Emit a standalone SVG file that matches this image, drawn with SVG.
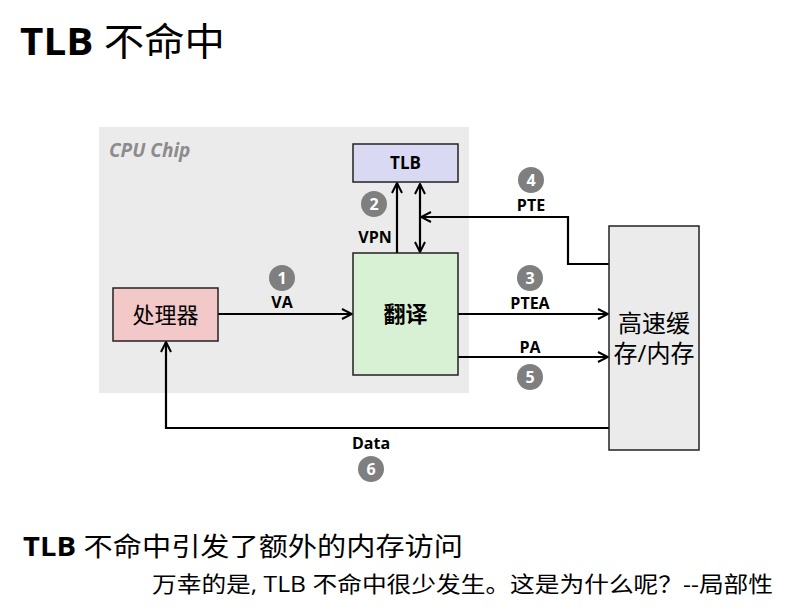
<svg xmlns="http://www.w3.org/2000/svg" width="794" height="612" viewBox="0 0 794 612">
<defs>
<style>
.t{font-family:"Open Sans","Noto Sans CJK SC",sans-serif;fill:#000}
.b{font-weight:bold}
.lbl{font-family:"Open Sans","Noto Sans CJK SC",sans-serif;font-weight:bold;font-size:16px;text-anchor:middle}
.num{font-family:"Open Sans",sans-serif;font-weight:bold;font-size:16px;fill:#fff;text-anchor:middle}
.c{fill:#7f7f7f}
.box{stroke:#222;stroke-width:1.5}
.ln{fill:none;stroke:#000;stroke-width:2.2}
</style>
<marker id="ah" viewBox="0 0 12 12" refX="11" refY="6" markerWidth="12" markerHeight="12" markerUnits="userSpaceOnUse" orient="auto-start-reverse">
<path d="M1,1 L11,6 L1,11" fill="none" stroke="#000" stroke-width="2"/>
</marker>
</defs>
<rect width="794" height="612" fill="#fff"/>
<text class="t" x="20" y="55" font-size="38" textLength="205" lengthAdjust="spacingAndGlyphs"><tspan class="b">TLB</tspan> 不命中</text>

<g id="chip">
<rect x="99" y="127" width="370" height="266" fill="#ebebeb"/>
<text x="109" y="157" font-family="Open Sans,sans-serif" font-style="italic" font-weight="bold" font-size="19" fill="#8c8c8c">CPU Chip</text>
</g>

<g id="conn">
<line class="ln" x1="218" y1="314" x2="352" y2="314" marker-end="url(#ah)"/>
<line class="ln" x1="397" y1="253" x2="397" y2="183" marker-end="url(#ah)"/>
<line class="ln" x1="420" y1="252" x2="420" y2="184" marker-start="url(#ah)" marker-end="url(#ah)"/>
<polyline class="ln" points="609,264 568,264 568,217 421,217" marker-end="url(#ah)"/>
<line class="ln" x1="458" y1="314" x2="608" y2="314" marker-end="url(#ah)"/>
<line class="ln" x1="458" y1="357" x2="608" y2="357" marker-end="url(#ah)"/>
<polyline class="ln" points="609,428 166,428 166,342" marker-end="url(#ah)"/>
<text class="lbl" x="282" y="308">VA</text>
<text class="lbl" x="375" y="243">VPN</text>
<text class="lbl" x="531" y="211">PTE</text>
<text class="lbl" x="530" y="309">PTEA</text>
<text class="lbl" x="530" y="353">PA</text>
<text class="lbl" x="371" y="449">Data</text>
</g>

<g id="badges">
<circle class="c" cx="282" cy="278" r="13"/><text class="num" x="282" y="284">1</text>
<circle class="c" cx="374" cy="204" r="13"/><text class="num" x="374" y="210">2</text>
<circle class="c" cx="530" cy="278" r="13"/><text class="num" x="530" y="284">3</text>
<circle class="c" cx="531" cy="180" r="13"/><text class="num" x="531" y="186">4</text>
<circle class="c" cx="530" cy="377" r="13"/><text class="num" x="530" y="383">5</text>
<circle class="c" cx="371" cy="469" r="13"/><text class="num" x="371" y="475">6</text>
</g>

<g id="tlb">
<rect class="box" x="353" y="144" width="105" height="38" fill="#d9d9f3"/>
<text class="lbl" x="405.5" y="169" style="font-size:17px">TLB</text>
</g>

<g id="translate">
<rect class="box" x="353" y="253" width="105" height="122" fill="#d8f0d4"/>
<text class="lbl" x="405.5" y="322" style="font-size:22px">翻译</text>
</g>

<g id="processor">
<rect class="box" x="113" y="288" width="105" height="53" fill="#f2c8c8"/>
<text class="t" x="165.5" y="323" font-size="22" text-anchor="middle">处理器</text>
</g>

<g id="memory">
<rect class="box" x="609" y="226" width="90" height="224" fill="#ebebeb"/>
<text class="t" x="654" y="332" font-size="24" text-anchor="middle">高速缓</text>
<text class="t" x="654" y="362" font-size="24" text-anchor="middle">存/内存</text>
</g>

<text class="t" x="23" y="556" font-size="26" textLength="440" lengthAdjust="spacingAndGlyphs"><tspan class="b">TLB</tspan> 不命中引发了额外的内存访问</text>
<text class="t" x="152" y="592" font-size="22" textLength="621" lengthAdjust="spacingAndGlyphs">万幸的是, TLB 不命中很少发生。这是为什么呢？--局部性</text>
</svg>
